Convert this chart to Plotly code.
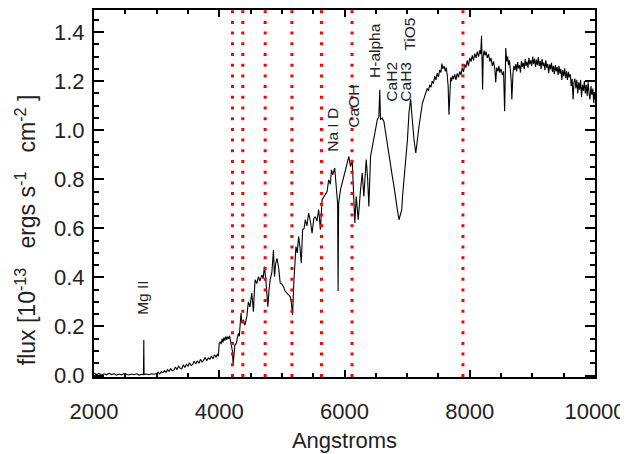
import plotly.graph_objects as go

# ---- Spectrum (wavelength [A], flux [1e-13 erg/s/cm^2]) ----
wave_uv = [2000, 2040, 2080, 2120, 2160, 2200, 2240, 2280, 2320, 2360, 2400, 2440, 2480, 2520, 2560, 2600, 2640, 2680, 2720, 2760, 2790, 2795, 2800, 2840, 2880, 2920, 2960]
flux_uv = [0.010, 0.004, 0.008, 0.002, 0.007, 0.003, 0.009, 0.004, 0.007, 0.002, 0.006, 0.003, 0.008, 0.004, 0.002, 0.006, 0.003, 0.007, 0.002, 0.005, 0.004, 0.145, 0.004, 0.006, 0.003, 0.007, 0.005]

wave_nuv = [3000, 3025, 3050, 3075, 3100, 3125, 3150, 3175, 3200, 3225, 3250, 3275, 3300, 3325, 3350, 3375, 3400, 3425, 3450, 3475, 3500, 3525, 3550, 3575, 3600, 3625, 3650, 3675, 3700, 3725, 3750, 3775, 3800, 3825, 3850, 3875, 3900, 3925, 3950, 3970, 3985, 3995]
flux_nuv = [0.008, 0.014, 0.006, 0.016, 0.011, 0.020, 0.013, 0.024, 0.017, 0.028, 0.019, 0.022, 0.035, 0.024, 0.038, 0.030, 0.027, 0.044, 0.033, 0.046, 0.038, 0.052, 0.041, 0.045, 0.058, 0.047, 0.060, 0.050, 0.066, 0.055, 0.062, 0.074, 0.060, 0.072, 0.066, 0.080, 0.068, 0.085, 0.074, 0.088, 0.078, 0.125]

wave_blue = [4000, 4015, 4030, 4045, 4060, 4075, 4090, 4105, 4120, 4135, 4150, 4165, 4180, 4195, 4210, 4222, 4235, 4250, 4270, 4290, 4305, 4320, 4335, 4348, 4360, 4385, 4410, 4440, 4465, 4490, 4520, 4535, 4546, 4560, 4573, 4600, 4626, 4650, 4680, 4700, 4722, 4744, 4760, 4776, 4795, 4813, 4840, 4866, 4882, 4900, 4921, 4946, 4974, 5000, 5027, 5050, 5081, 5105, 5134, 5150, 5171]
flux_blue = [0.132, 0.138, 0.128, 0.150, 0.135, 0.155, 0.142, 0.160, 0.146, 0.158, 0.150, 0.162, 0.140, 0.125, 0.100, 0.045, 0.105, 0.125, 0.130, 0.150, 0.172, 0.160, 0.200, 0.255, 0.215, 0.227, 0.205, 0.240, 0.300, 0.280, 0.336, 0.300, 0.260, 0.340, 0.390, 0.375, 0.403, 0.385, 0.410, 0.395, 0.444, 0.390, 0.340, 0.281, 0.350, 0.390, 0.420, 0.512, 0.403, 0.455, 0.478, 0.444, 0.376, 0.372, 0.362, 0.345, 0.336, 0.330, 0.322, 0.300, 0.247]

wave_vis = [5193, 5225, 5245, 5267, 5290, 5310, 5331, 5355, 5374, 5400, 5427, 5455, 5482, 5510, 5535, 5560, 5588, 5615, 5642, 5680, 5722, 5748, 5775, 5791, 5812, 5844, 5866, 5890, 5898, 5906, 5935, 5960, 5988, 6015, 6043, 6068, 6096, 6123, 6139, 6165, 6187, 6219, 6256, 6283, 6309, 6330, 6347, 6370, 6389, 6416, 6440, 6469, 6495, 6524, 6549, 6563, 6575]
flux_vis = [0.390, 0.526, 0.500, 0.567, 0.520, 0.458, 0.594, 0.600, 0.635, 0.610, 0.662, 0.630, 0.580, 0.640, 0.648, 0.630, 0.676, 0.594, 0.716, 0.730, 0.750, 0.798, 0.780, 0.839, 0.818, 0.846, 0.771, 0.700, 0.345, 0.700, 0.757, 0.780, 0.811, 0.840, 0.866, 0.893, 0.852, 0.880, 0.771, 0.622, 0.730, 0.635, 0.757, 0.825, 0.730, 0.830, 0.880, 0.800, 0.689, 0.893, 0.930, 0.961, 1.000, 1.043, 1.056, 1.165, 1.043]

wave_red = [6600, 6629, 6655, 6684, 6710, 6737, 6765, 6790, 6815, 6844, 6870, 6890, 6913, 6930, 6950, 6977, 7005, 7030, 7057, 7070, 7085, 7110, 7138, 7164, 7190, 7215, 7245, 7270]
flux_red = [1.050, 1.036, 0.990, 0.934, 0.890, 0.852, 0.810, 0.771, 0.720, 0.675, 0.635, 0.655, 0.675, 0.740, 0.798, 0.866, 0.961, 1.072, 1.126, 1.080, 1.030, 0.961, 0.907, 0.975, 1.016, 1.060, 1.111, 1.130]

wave_nir1 = [7300, 7320, 7340, 7360, 7380, 7400, 7420, 7440, 7460, 7480, 7500, 7520, 7540, 7555, 7570, 7590, 7610, 7625, 7640, 7655, 7668, 7680, 7695, 7710, 7725, 7740, 7760, 7780, 7800, 7820, 7840, 7860, 7880, 7900, 7920, 7940, 7960, 7980, 8000, 8020, 8040, 8060, 8080, 8100, 8120, 8140, 8160, 8175, 8188, 8195, 8205, 8215, 8230, 8245, 8260, 8280, 8300, 8320, 8340, 8360, 8380, 8400, 8415, 8430, 8450, 8465, 8480, 8500, 8520, 8540, 8550, 8557, 8566, 8575, 8590, 8605, 8620, 8635, 8650, 8662, 8672, 8682]
flux_nir1 = [1.152, 1.170, 1.160, 1.185, 1.175, 1.200, 1.190, 1.220, 1.205, 1.232, 1.218, 1.245, 1.235, 1.272, 1.250, 1.262, 1.240, 1.255, 1.225, 1.180, 1.063, 1.170, 1.215, 1.200, 1.222, 1.208, 1.228, 1.205, 1.232, 1.215, 1.240, 1.225, 1.255, 1.238, 1.268, 1.255, 1.285, 1.262, 1.295, 1.280, 1.305, 1.285, 1.312, 1.295, 1.320, 1.300, 1.325, 1.310, 1.385, 1.305, 1.165, 1.300, 1.325, 1.305, 1.320, 1.295, 1.310, 1.280, 1.295, 1.262, 1.280, 1.250, 1.195, 1.255, 1.240, 1.262, 1.235, 1.250, 1.225, 1.240, 1.150, 1.077, 1.200, 1.335, 1.280, 1.300, 1.265, 1.285, 1.240, 1.200, 1.125, 1.225]

wave_nir2 = [8690, 8705, 8720, 8735, 8750, 8765, 8780, 8795, 8810, 8825, 8840, 8855, 8870, 8885, 8900, 8915, 8930, 8945, 8960, 8975, 8990, 9005, 9020, 9035, 9050, 9065, 9080, 9095, 9110, 9125, 9140, 9155, 9170, 9185, 9200, 9215, 9230, 9245, 9260, 9275, 9290, 9305, 9320, 9335, 9350, 9365, 9380, 9395, 9410, 9425, 9440, 9455, 9470, 9485, 9500, 9515, 9530, 9545, 9560, 9575, 9590, 9605, 9620, 9635, 9650, 9665, 9680, 9695, 9710, 9725, 9740, 9755, 9770, 9785, 9800, 9815, 9830, 9845, 9860, 9875, 9890, 9905, 9920, 9935, 9950, 9965, 9980, 9990, 10000]
flux_nir2 = [1.230, 1.262, 1.245, 1.270, 1.240, 1.278, 1.252, 1.265, 1.235, 1.282,
             1.258, 1.275, 1.250, 1.290, 1.262, 1.280, 1.255, 1.295, 1.268, 1.285,
             1.262, 1.300, 1.270, 1.292, 1.258, 1.288, 1.265, 1.298, 1.262, 1.282,
             1.250, 1.290, 1.262, 1.275, 1.245, 1.285, 1.255, 1.270, 1.232, 1.268,
             1.248, 1.275, 1.238, 1.262, 1.228, 1.265, 1.240, 1.258, 1.225, 1.262,
             1.230, 1.250, 1.205, 1.245, 1.220, 1.252, 1.212, 1.240, 1.205, 1.238,
             1.215, 1.228, 1.180, 1.210, 1.125, 1.195, 1.210, 1.170, 1.205, 1.150,
             1.195, 1.165, 1.205, 1.135, 1.185, 1.160, 1.200, 1.150, 1.185, 1.140,
             1.195, 1.150, 1.125, 1.180, 1.145, 1.170, 1.110, 1.150, 1.125]

# Marked wavelengths (red dotted lines)
marker_waves = [4211, 4376, 4733, 5160, 5632, 6120, 7891]

# Feature labels
feature_names = ["Mg II", "Na I D", "CaOH", "H-alpha", "CaH2", "CaH3", "TiO5"]
feature_waves = [2781, 5805, 6152, 6480, 6749, 6973, 7032]
feature_flux = [0.239, 0.905, 1.0, 1.205, 1.11, 1.11, 1.315]

x_ticks = [2000, 4000, 6000, 8000, 10000]
x_tick_text = ["2000", "4000", "6000", "8000", "10000"]
y_ticks = [0.0, 0.2, 0.4, 0.6, 0.8, 1.0, 1.2, 1.4]

segments_w = [wave_uv, wave_nuv, wave_blue, wave_vis, wave_red, wave_nir1, wave_nir2]
segments_f = [flux_uv, flux_nuv, flux_blue, flux_vis, flux_red, flux_nir1, flux_nir2]
wave, flux = [], []
for sw, sf in zip(segments_w, segments_f):
    assert len(sw) == len(sf), (len(sw), len(sf))
    wave += sw
    flux += sf

FONT = "Liberation Sans, Arial, Helvetica, sans-serif"
TXT = "#222222"

fig = go.Figure()
fig.add_trace(go.Scatter(x=wave, y=flux, mode="lines",
                         line=dict(color="black", width=1.1),
                         showlegend=False, hoverinfo="skip"))

for w in marker_waves:
    fig.add_shape(type="line", xref="x", yref="paper", x0=w, x1=w, y0=0, y1=1,
                  line=dict(color="#ff0000", width=3, dash="3px,7.7px"), layer="above")

for name, w, f in zip(feature_names, feature_waves, feature_flux):
    fig.add_annotation(x=w, y=f, xref="x", yref="y", text=name, showarrow=False,
                       textangle=-90, xanchor="center", yanchor="bottom",
                       font=dict(family=FONT, size=15.5, color=TXT))

NB = "\u00a0"
fig.add_annotation(xref="paper", yref="paper", x=-0.1357, y=0.40,
                   text="flux [10<sup>-13</sup>" + NB * 2 + " ergs s<sup>-1</sup>" + NB * 2 + " cm<sup>-2</sup>" + NB + "]",
                   textangle=-90, showarrow=False, xanchor="center", yanchor="middle",
                   font=dict(family=FONT, size=23, color=TXT))

axis_common = dict(showline=True, linecolor="black", linewidth=2, mirror="allticks",
                   ticks="inside", tickcolor="black", tickwidth=1.5,
                   showgrid=False, zeroline=False, automargin=False,
                   tickfont=dict(family=FONT, size=22, color=TXT))

fig.update_xaxes(range=[2000, 10000], tickvals=x_ticks, ticktext=x_tick_text, ticklen=7,
                 minor=dict(ticks="inside", dtick=500, ticklen=4, tickcolor="black", tickwidth=1.5),
                 ticklabelstandoff=14,
                 title=dict(text="Angstroms", font=dict(family=FONT, size=22, color=TXT), standoff=9),
                 **axis_common)
fig.update_yaxes(range=[-0.006, 1.49], tickvals=y_ticks, tickformat=".1f", ticklen=10,
                 minor=dict(ticks="inside", dtick=0.05, ticklen=5, tickcolor="black", tickwidth=1.5),
                 ticklabelstandoff=3,
                 **axis_common)

fig.update_layout(width=628, height=454, margin=dict(l=86, r=41, t=2, b=85),
                  paper_bgcolor="white", plot_bgcolor="white",
                  font=dict(family=FONT, color=TXT))

fig.write_html("out.html")
